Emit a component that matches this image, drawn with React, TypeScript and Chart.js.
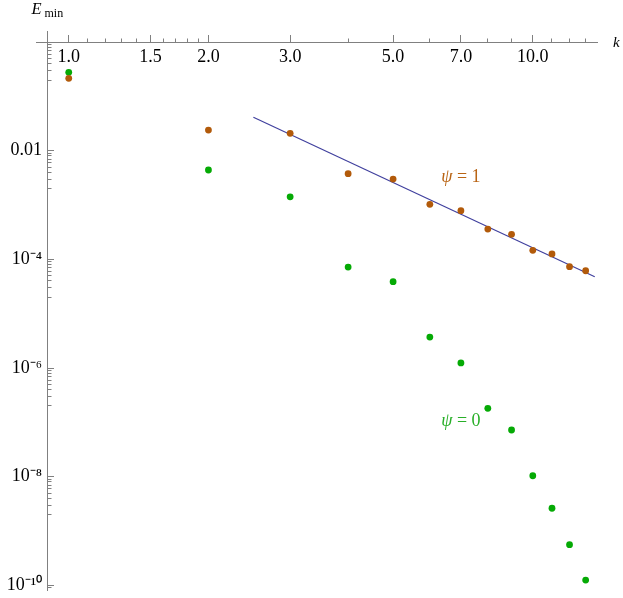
import React, { useEffect, useRef } from "react";
import { Chart, registerables } from "chart.js";

Chart.register(...registerables);

// ---- data ----
const K_VALUES = [1, 2, 3, 4, 5, 6, 7, 8, 9, 10, 11, 12, 13];
const E_PSI1 = [0.215, 0.024, 0.0209, 0.00378, 0.00301, 0.00103, 0.000787, 0.000362, 0.000289, 0.000147, 0.000126, 0.0000733, 0.0000618];
const E_PSI0 = [0.277, 0.00442, 0.00142, 0.0000723, 0.0000388, 0.00000372, 0.00000124, 0.000000181, 0.0000000723, 0.0000000104, 0.00000000262, 0.00000000056, 0.000000000125];
const FIT_K = [2.5, 13.6];
const FIT_E = [0.0412, 0.000048];

const X_MAJOR_TICKS = [1, 1.5, 2, 3, 5, 7, 10];
const X_MAJOR_LABELS = ["1.0", "1.5", "2.0", "3.0", "5.0", "7.0", "10.0"];
const X_MINOR_TICKS = [1.1, 1.2, 1.3, 1.4, 1.6, 1.7, 1.8, 1.9, 4, 6, 8, 9, 11, 12, 13];
const Y_MAJOR_TICKS = [1e-10, 1e-8, 1e-6, 1e-4, 1e-2];
const Y_MAJOR_LABELS = ["10\u207B\u00B9\u2070", "10\u207B\u2078", "10\u207B\u2076", "10\u207B\u2074", "0.01"];
const Y_MINOR_MANTISSAS = [2, 3, 4, 5, 6, 7, 8, 9];
const Y_MINOR_DECADES = [-11, -9, -7, -5, -3, -1];

const X_MIN = 0.853;
const X_MAX = 13.8;
const Y_MIN = 8.2e-11;
const Y_MAX = 1.6;
const X_AXIS_AT = 1; // y value where the k axis crosses
const Y_AXIS_AT = 0.902; // x value where the E axis crosses
const Y_LABEL_AT = 0.876;

const BROWN = "rgb(178,90,10)";
const GREEN = "rgb(5,170,5)";
const FIT_COLOR = "rgb(64,64,158)";
const AXIS_COLOR = "rgb(128,128,128)";
const SERIF = "'Liberation Serif', 'Times New Roman', serif";

const yMinorTicks: number[] = [];
for (const d of Y_MINOR_DECADES) {
  for (const m of Y_MINOR_MANTISSAS) {
    const v = m * Math.pow(10, d);
    if (v > Y_MIN && v < Y_MAX) yMinorTicks.push(v);
  }
}

const textPlugin = {
  id: "texts",
  afterDraw(chart: any) {
    const ctx = chart.ctx;
    const xs = chart.scales.x;
    const ys = chart.scales.y;
    ctx.save();
    ctx.textBaseline = "alphabetic";
    // axis labels
    ctx.fillStyle = "#000";
    ctx.font = `italic 16.5px ${SERIF}`;
    ctx.textAlign = "left";
    ctx.fillText("E", 31.5, 14);
    ctx.font = `12px ${SERIF}`;
    ctx.fillText("min", 44.5, 17);
    ctx.font = `italic 15px ${SERIF}`;
    ctx.fillText("k", 613, 47);
    // curve labels
    const drawPsi = (label: string, kx: number, ey: number, color: string) => {
      const px = xs.getPixelForValue(kx);
      const py = ys.getPixelForValue(ey);
      ctx.fillStyle = color;
      ctx.textBaseline = "middle";
      ctx.font = `italic 18px ${SERIF}`;
      const psiW = ctx.measureText("\u03C8").width;
      ctx.font = `18px ${SERIF}`;
      const restW = ctx.measureText(label).width;
      const total = psiW + restW;
      const x0 = px - total / 2;
      ctx.font = `italic 18px ${SERIF}`;
      ctx.textAlign = "left";
      ctx.fillText("\u03C8", x0, py);
      ctx.font = `18px ${SERIF}`;
      ctx.fillText(label, x0 + psiW, py);
    };
    drawPsi(" = 1", 7.0, 0.0033, "rgb(185,100,20)");
    drawPsi(" = 0", 7.0, 1.03e-7, "rgb(40,175,40)");
    ctx.restore();
  },
};

export default function App() {
  const ref = useRef<HTMLCanvasElement>(null);
  useEffect(() => {
    if (!ref.current) return;
    const tickFont = { family: SERIF, size: 18 };
    const chart = new Chart(ref.current, {
      type: "scatter",
      data: {
        datasets: [
          {
            label: "psi=1",
            data: K_VALUES.map((k, i) => ({ x: k, y: E_PSI1[i] })),
            backgroundColor: BROWN,
            borderColor: BROWN,
            pointRadius: 3.4,
            pointBorderWidth: 0,
            showLine: false,
          },
          {
            label: "psi=0",
            data: K_VALUES.map((k, i) => ({ x: k, y: E_PSI0[i] })),
            backgroundColor: GREEN,
            borderColor: GREEN,
            pointRadius: 3.4,
            pointBorderWidth: 0,
            showLine: false,
          },
          {
            label: "fit",
            data: FIT_K.map((k, i) => ({ x: k, y: FIT_E[i] })),
            borderColor: FIT_COLOR,
            backgroundColor: FIT_COLOR,
            borderWidth: 1.2,
            pointRadius: 0,
            showLine: true,
          },
        ],
      },
      options: {
        animation: false,
        responsive: false,
        devicePixelRatio: 1,
        layout: { padding: { left: 36.7, right: 25.3, top: 31, bottom: 8 } },
        plugins: { legend: { display: false }, tooltip: { enabled: false } },
        scales: {
          x: {
            type: "logarithmic",
            position: { y: X_AXIS_AT },
            min: X_MIN,
            max: X_MAX,
            afterBuildTicks: (s: any) => {
              s.ticks = X_MAJOR_TICKS.map((v) => ({ value: v }));
            },
            ticks: {
              autoSkip: false,
              maxRotation: 0,
              minRotation: 0,
              padding: 12,
              color: "#000",
              font: tickFont,
              callback: (v: any) => {
                const i = X_MAJOR_TICKS.indexOf(Number(v));
                return i >= 0 ? X_MAJOR_LABELS[i] : "";
              },
            },
            grid: { drawOnChartArea: false, drawTicks: true, tickLength: -8, color: AXIS_COLOR },
            border: { display: true, color: AXIS_COLOR, width: 1 },
          },
          xMinor: {
            type: "logarithmic",
            position: { y: X_AXIS_AT },
            min: X_MIN,
            max: X_MAX,
            afterBuildTicks: (s: any) => {
              s.ticks = X_MINOR_TICKS.map((v) => ({ value: v }));
            },
            ticks: { display: false, autoSkip: false },
            grid: { drawOnChartArea: false, drawTicks: true, tickLength: -3.5, color: AXIS_COLOR },
            border: { display: false },
          },
          y: {
            type: "logarithmic",
            position: { x: Y_LABEL_AT },
            min: Y_MIN,
            max: Y_MAX,
            afterBuildTicks: (s: any) => {
              s.ticks = Y_MAJOR_TICKS.map((v) => ({ value: v }));
            },
            ticks: {
              autoSkip: false,
              padding: 0,
              color: "#000",
              font: { family: SERIF, size: 18, lineHeight: 0.4 },
              callback: (v: any) => {
                const n = Number(v);
                const i = Y_MAJOR_TICKS.findIndex((t) => Math.abs(Math.log10(t) - Math.log10(n)) < 1e-6);
                return i >= 0 ? Y_MAJOR_LABELS[i] : "";
              },
            },
            grid: { drawOnChartArea: false, drawTicks: false },
            border: { display: false },
          },
          yMajor: {
            type: "logarithmic",
            position: { x: Y_AXIS_AT },
            min: Y_MIN,
            max: Y_MAX,
            afterBuildTicks: (s: any) => {
              s.ticks = Y_MAJOR_TICKS.map((v) => ({ value: v }));
            },
            ticks: { display: false, autoSkip: false },
            grid: { drawOnChartArea: false, drawTicks: true, tickLength: -7, color: AXIS_COLOR },
            border: { display: true, color: AXIS_COLOR, width: 1 },
          },
          yMinor: {
            type: "logarithmic",
            position: { x: Y_AXIS_AT },
            min: Y_MIN,
            max: Y_MAX,
            afterBuildTicks: (s: any) => {
              s.ticks = yMinorTicks.map((v) => ({ value: v }));
            },
            ticks: { display: false, autoSkip: false },
            grid: { drawOnChartArea: false, drawTicks: true, tickLength: -3.5, color: AXIS_COLOR },
            border: { display: false },
          },
        },
      } as any,
      plugins: [textPlugin],
    });
    return () => chart.destroy();
  }, []);
  return (
    <div style={{ position: "absolute", left: 0, top: 0, width: 623, height: 598, background: "#fff" }}>
      <canvas ref={ref} width={623} height={598} style={{ display: "block" }} />
    </div>
  );
}
